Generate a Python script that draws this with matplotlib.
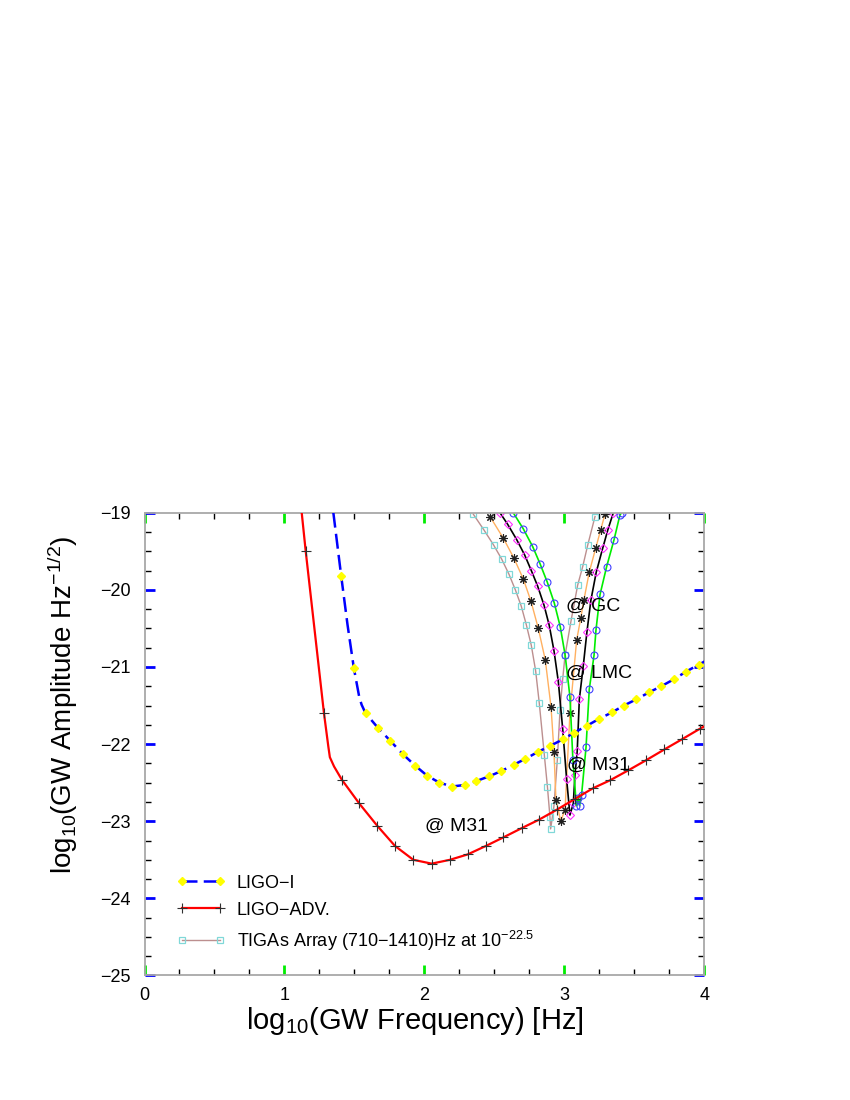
import matplotlib
matplotlib.use("Agg")
import matplotlib.pyplot as plt
from matplotlib.lines import Line2D

plt.rcParams['font.family'] = ['Liberation Sans', 'DejaVu Sans']
plt.rcParams['mathtext.fontset'] = 'custom'
plt.rcParams['mathtext.rm'] = 'Liberation Sans'
plt.rcParams['mathtext.it'] = 'Liberation Sans:italic'

# LIGO-I (log10 f, log10 h)
ligo1_x = [1.349, 1.405, 1.450, 1.495, 1.534, 1.551, 1.579, 1.668, 1.757, 1.845, 1.934,
           2.019, 2.107, 2.197, 2.286, 2.369, 2.459, 2.548, 2.636, 2.721, 2.812, 2.900,
           2.988, 3.071, 3.162, 3.250, 3.338, 3.424, 3.513, 3.603, 3.691, 3.781, 3.869,
           3.958, 4.000]
ligo1_y = [-19.00, -19.82, -20.45, -21.01, -21.39, -21.49, -21.60, -21.79, -21.96, -22.13, -22.28,
           -22.41, -22.50, -22.55, -22.53, -22.48, -22.42, -22.35, -22.27, -22.19, -22.10, -22.02,
           -21.94, -21.85, -21.76, -21.67, -21.59, -21.50, -21.42, -21.33, -21.25, -21.16, -21.06,
           -20.97, -20.93]

# LIGO advanced
adv_x = [1.123, 1.151, 1.282, 1.313, 1.324, 1.354, 1.409, 1.534, 1.663, 1.789, 1.920,
         2.051, 2.182, 2.309, 2.439, 2.563, 2.694, 2.818, 2.946, 3.075, 3.206, 3.325,
         3.456, 3.582, 3.713, 3.837, 3.968, 4.000]
adv_y = [-19.00, -19.49, -21.60, -22.03, -22.17, -22.29, -22.46, -22.77, -23.06, -23.32, -23.50,
         -23.55, -23.50, -23.43, -23.32, -23.21, -23.09, -22.98, -22.85, -22.71, -22.57, -22.47,
         -22.34, -22.21, -22.07, -21.94, -21.80, -21.77]

# TIGAs spheres (resonant V curves)
tiga1_x = [2.349, 2.427, 2.494, 2.551, 2.604, 2.649, 2.691, 2.727, 2.763, 2.794, 2.820, 2.856,
           2.878, 2.896, 2.901, 2.925, 2.949, 2.968, 2.987, 3.004, 3.046, 3.094, 3.130, 3.166,
           3.218]
tiga1_y = [-19.02, -19.23, -19.42, -19.60, -19.80, -20.00, -20.21, -20.45, -20.72, -21.05, -21.47, -22.14,
           -22.55, -22.94, -23.10, -22.80, -22.20, -21.56, -21.16, -20.85, -20.41, -19.94, -19.70, -19.42,
           -19.05]

tiga2_x = [2.468, 2.563, 2.639, 2.706, 2.761, 2.813, 2.863, 2.904, 2.925, 2.939, 2.973, 3.004,
           3.039, 3.087, 3.116, 3.139, 3.177, 3.223, 3.259, 3.289]
tiga2_y = [-19.05, -19.33, -19.59, -19.86, -20.15, -20.50, -20.91, -21.52, -22.10, -22.72, -23.00, -22.85,
           -21.60, -20.65, -20.37, -20.13, -19.77, -19.46, -19.22, -19.02]

tiga3_x = [2.539, 2.594, 2.659, 2.716, 2.763, 2.808, 2.854, 2.891, 2.925, 2.956, 2.987, 3.015,
           3.039, 3.063, 3.075, 3.091, 3.106, 3.134, 3.160, 3.189, 3.227, 3.273, 3.310, 3.349]
tiga3_y = [-19.00, -19.15, -19.35, -19.55, -19.75, -19.95, -20.20, -20.46, -20.79, -21.19, -21.80, -22.45,
           -22.92, -22.77, -22.40, -22.09, -21.42, -20.99, -20.55, -20.13, -19.77, -19.46, -19.22, -19.00]

tiga4_x = [2.634, 2.706, 2.773, 2.825, 2.877, 2.927, 2.970, 3.005, 3.039, 3.060, 3.085, 3.100,
           3.108, 3.122, 3.154, 3.177, 3.211, 3.225, 3.254, 3.301, 3.354, 3.396, 3.408]
tiga4_y = [-19.00, -19.21, -19.44, -19.66, -19.90, -20.17, -20.48, -20.85, -21.39, -22.20, -22.80, -22.70,
           -22.80, -22.66, -22.04, -21.29, -20.85, -20.52, -20.06, -19.70, -19.35, -19.03, -19.00]

labels = ['LIGO\u2212I', 'LIGO\u2212ADV.', 'TIGAs Array (710\u22121410)Hz at 10$^{\\mathregular{-22.5}}$']
notes = ['@ GC', '@ LMC', '@ M31', '@ M31']
note_x = [3.01, 3.01, 3.02, 2.005]
note_y = [-20.21, -21.08, -22.27, -23.07]

fig = plt.figure(figsize=(8.5, 11), dpi=100)
ax = fig.add_axes([0.170, 0.1132, 0.6588, 0.4207])

# V curves of the spheres
ax.plot(tiga1_x, tiga1_y, color='#BC8F8F', lw=1.0, marker='s', ms=4.5, mfc='none',
        mec='#80D8D8', mew=0.9, zorder=2)
ax.plot(tiga2_x, tiga2_y, color='#FFB060', lw=1.0, marker=(8, 2, 0), ms=6, mec='#202020',
        mew=0.8, zorder=2)
ax.plot(tiga3_x, tiga3_y, color='black', lw=1.2, marker='D', ms=4, mfc='none',
        mec='#FF30FF', mew=0.8, zorder=2)
ax.plot(tiga4_x, tiga4_y, color='#00EE00', lw=1.2, marker='o', ms=5, mfc='none',
        mec='#4040FF', mew=0.8, zorder=2)

# interferometers
ligo1_marks = [1, 3, 6, 7, 8, 9, 10, 11, 12, 13, 14, 15, 16, 17, 18, 19, 20, 21, 22, 23, 24,
               25, 26, 27, 28, 29, 30, 31, 32, 33]
ax.plot(ligo1_x, ligo1_y, color='#0000FF', lw=1.8, ls=(0, (6, 2.5)), marker='D', ms=4,
        mfc='#FFFF00', mec='#FFFF00', markevery=ligo1_marks, zorder=4)
adv_marks = [1, 2] + list(range(6, 27))
ax.plot(adv_x, adv_y, color='#FF0000', lw=1.6, marker='+', ms=7, mec='#303030', mew=0.8,
        markevery=adv_marks, zorder=3)

for t, x, y in zip(notes, note_x, note_y):
    ax.text(x, y, t, fontsize=14, ha='left', va='center', zorder=5)

handles = [
    Line2D([], [], color='#0000FF', lw=1.8, ls=(0, (6, 2.5)), marker='D', ms=4,
           mfc='#FFFF00', mec='#FFFF00'),
    Line2D([], [], color='#FF0000', lw=1.6, marker='+', ms=7, mec='#303030', mew=0.8),
    Line2D([], [], color='#BC8F8F', lw=1.0, marker='s', ms=4.5, mfc='none', mec='#80D8D8',
           mew=0.9),
]
ax.legend(handles, labels, loc='upper left', bbox_to_anchor=(0.058, 0.218), frameon=False,
          numpoints=2, fontsize=13, handlelength=2.7, handletextpad=0.6, labelspacing=0.55,
          borderpad=0, borderaxespad=0)

ax.set_xlim(0, 4)
ax.set_ylim(-25, -19)
ax.set_xticks([0, 1, 2, 3, 4])
ax.set_yticks([-25, -24, -23, -22, -21, -20, -19])
ax.set_xticks([i * 0.25 for i in range(17)], minor=True)
ax.set_yticks([-25 + i * 0.25 for i in range(25)], minor=True)

ax.tick_params(which='both', direction='in', top=True, right=True, labelsize=13)
ax.tick_params(which='major', length=7, width=2)
ax.tick_params(which='minor', length=4, width=1, color='black')
ax.tick_params(axis='x', which='major', color='#00EE00', pad=8)
ax.tick_params(axis='y', which='major', color='#0000FF', pad=10)

for s in ax.spines.values():
    s.set_color('#A8A8A8')
    s.set_linewidth(1.3)

ax.set_xlabel('log$_{\\mathregular{10}}$(GW Frequency) [Hz]', fontsize=21)
ax.set_ylabel('log$_{\\mathregular{10}}$(GW Amplitude Hz$^{\\mathregular{-1/2}}$)', fontsize=20)
ax.xaxis.set_label_coords(0.483, -0.064)
ax.yaxis.set_label_coords(-0.115, 0.585)

fig.savefig('out.png', dpi=100)
